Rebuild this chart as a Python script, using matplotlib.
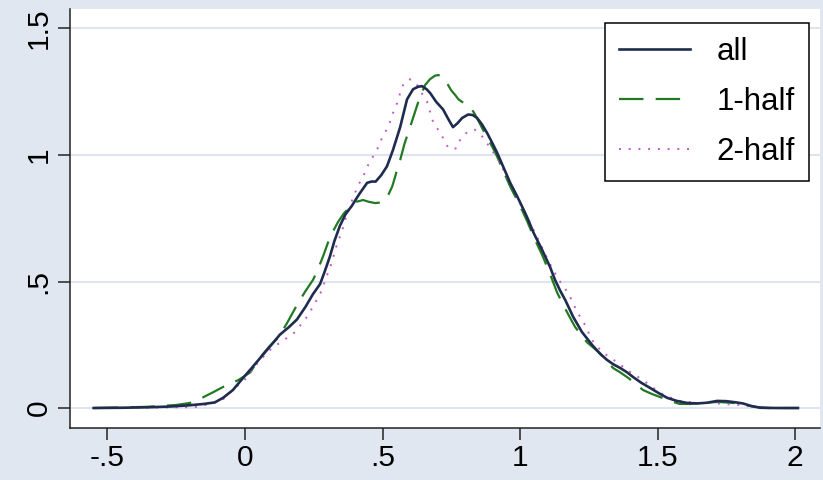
import matplotlib
matplotlib.use("Agg")
import matplotlib.pyplot as plt

plt.rcParams["font.family"] = ["Liberation Sans", "DejaVu Sans"]

# kernel density estimates, full sample and the two halves
all_x = [-0.55, -0.45, -0.35, -0.27, -0.20, -0.15, -0.11, -0.08, -0.044, -0.01,
         0.018, 0.065, 0.10, 0.127, 0.16, 0.189, 0.22, 0.247, 0.273, 0.29,
         0.309, 0.325, 0.345, 0.365, 0.389, 0.415, 0.444, 0.46, 0.475, 0.495,
         0.516, 0.538, 0.564, 0.589, 0.611, 0.63, 0.644, 0.66, 0.673, 0.695,
         0.72, 0.74, 0.756, 0.772, 0.789, 0.811, 0.828, 0.844, 0.862, 0.88,
         0.90, 0.916, 0.94, 0.964, 0.99, 1.01, 1.025, 1.05, 1.08, 1.109,
         1.127, 1.145, 1.164, 1.193, 1.225, 1.262, 1.29, 1.316, 1.34, 1.364,
         1.39, 1.41, 1.44, 1.473, 1.505, 1.535, 1.57, 1.607, 1.645, 1.68,
         1.716, 1.75, 1.78, 1.81, 1.84, 1.873, 1.93, 2.01]
all_y = [0.0, 0.001, 0.003, 0.006, 0.011, 0.016, 0.022, 0.04, 0.071, 0.115,
         0.15, 0.21, 0.255, 0.29, 0.32, 0.35, 0.40, 0.45, 0.49, 0.54,
         0.60, 0.66, 0.72, 0.765, 0.80, 0.845, 0.89, 0.895, 0.895, 0.92,
         0.955, 1.02, 1.11, 1.22, 1.26, 1.27, 1.272, 1.26, 1.245, 1.21,
         1.18, 1.14, 1.11, 1.125, 1.146, 1.16, 1.158, 1.146, 1.12, 1.087,
         1.045, 1.01, 0.95, 0.89, 0.835, 0.79, 0.755, 0.69, 0.625, 0.557,
         0.506, 0.465, 0.427, 0.36, 0.30, 0.249, 0.215, 0.19, 0.172, 0.158,
         0.14, 0.123, 0.10, 0.079, 0.058, 0.04, 0.028, 0.02, 0.018, 0.021,
         0.028, 0.027, 0.023, 0.018, 0.008, 0.001, 0.0, 0.0]

half1_x = [-0.55, -0.45, -0.35, -0.25, -0.20, -0.153, -0.12, -0.08, -0.025, 0.018,
           0.04, 0.065, 0.09, 0.12, 0.153, 0.189, 0.218, 0.247, 0.262, 0.284,
           0.309, 0.338, 0.36, 0.382, 0.405, 0.429, 0.45, 0.473, 0.492, 0.51,
           0.522, 0.535, 0.546, 0.556, 0.564, 0.58, 0.60, 0.618, 0.636, 0.655,
           0.673, 0.69, 0.702, 0.715, 0.727, 0.738, 0.75, 0.764, 0.776, 0.789,
           0.805, 0.818, 0.832, 0.847, 0.865, 0.88, 0.90, 0.916, 0.94, 0.964,
           0.99, 1.01, 1.025, 1.05, 1.08, 1.105, 1.135, 1.17, 1.20, 1.243,
           1.29, 1.338, 1.365, 1.393, 1.42, 1.447, 1.48, 1.51, 1.545, 1.58,
           1.62, 1.655, 1.72, 1.775, 1.81, 1.85, 1.90, 2.01]
half1_y = [0.0, 0.002, 0.005, 0.012, 0.02, 0.042, 0.06, 0.083, 0.11, 0.14,
           0.175, 0.213, 0.245, 0.277, 0.336, 0.407, 0.459, 0.506, 0.54, 0.60,
           0.676, 0.735, 0.77, 0.795, 0.815, 0.822, 0.815, 0.81, 0.812, 0.822,
           0.845, 0.875, 0.915, 0.955, 0.98, 1.045, 1.11, 1.17, 1.23, 1.277,
           1.30, 1.313, 1.316, 1.312, 1.30, 1.277, 1.255, 1.237, 1.22, 1.21,
           1.20, 1.19, 1.168, 1.138, 1.10, 1.07, 1.03, 0.995, 0.935, 0.875,
           0.82, 0.775, 0.74, 0.675, 0.605, 0.54, 0.455, 0.38, 0.32, 0.26,
           0.217, 0.158, 0.14, 0.119, 0.095, 0.071, 0.055, 0.043, 0.028, 0.016,
           0.016, 0.02, 0.024, 0.02, 0.014, 0.005, 0.0, 0.0]

half2_x = [-0.50, -0.40, -0.30, -0.22, -0.18, -0.153, -0.116, -0.084, -0.055, -0.036,
           0.007, 0.047, 0.098, 0.153, 0.182, 0.225, 0.247, 0.28, 0.29, 0.316,
           0.335, 0.353, 0.371, 0.389, 0.411, 0.429, 0.444, 0.462, 0.48, 0.49,
           0.51, 0.527, 0.538, 0.553, 0.564, 0.575, 0.596, 0.61, 0.625, 0.645,
           0.662, 0.673, 0.684, 0.702, 0.72, 0.738, 0.755, 0.771, 0.782, 0.807,
           0.836, 0.865, 0.89, 0.916, 0.94, 0.964, 0.99, 1.025, 1.06, 1.09,
           1.12, 1.153, 1.175, 1.207, 1.225, 1.243, 1.255, 1.298, 1.327, 1.356,
           1.389, 1.418, 1.447, 1.48, 1.51, 1.57, 1.607, 1.65, 1.70, 1.75,
           1.80, 1.85, 1.90, 2.0]
half2_y = [0.0, 0.001, 0.002, 0.003, 0.004, 0.01, 0.02, 0.03, 0.06, 0.079,
           0.12, 0.18, 0.237, 0.277, 0.30, 0.36, 0.40, 0.466, 0.50, 0.577,
           0.65, 0.70, 0.77, 0.82, 0.88, 0.913, 0.953, 0.988, 1.02, 1.05,
           1.09, 1.13, 1.166, 1.205, 1.245, 1.277, 1.30, 1.295, 1.277, 1.24,
           1.21, 1.17, 1.13, 1.10, 1.067, 1.03, 1.022, 1.028, 1.06, 1.09,
           1.10, 1.07, 1.03, 0.99, 0.94, 0.885, 0.83, 0.755, 0.68, 0.61,
           0.545, 0.486, 0.455, 0.38, 0.348, 0.316, 0.277, 0.221, 0.20, 0.178,
           0.15, 0.13, 0.11, 0.083, 0.059, 0.03, 0.024, 0.02, 0.02, 0.015,
           0.012, 0.005, 0.0, 0.0]

labels = ["all", "1-half", "2-half"]
xticks = [-0.5, 0, 0.5, 1, 1.5, 2]
xtick_labels = ["-.5", "0", ".5", "1", "1.5", "2"]
yticks = [0, 0.5, 1, 1.5]
ytick_labels = ["0", ".5", "1", "1.5"]

bg = "#e1e7f0"
grid = "#dfe5ee"

fig = plt.figure(figsize=(8.23, 4.8), dpi=100, facecolor=bg)
ax = fig.add_axes([70 / 823, 52 / 480, 750 / 823, 419 / 480])
ax.set_facecolor("white")

for yv in yticks:
    ax.axhline(yv, color=grid, lw=1.5, zorder=0)

ax.plot(all_x, all_y, color="#1f2c4e", lw=1.9, label=labels[0], zorder=3)
ax.plot(half1_x, half1_y, color="#217a21", lw=1.6, dashes=(11, 5.5), label=labels[1], zorder=2)
ax.plot(half2_x, half2_y, color="#c458c8", lw=1.4, dashes=(1, 4), label=labels[2], zorder=2)

ax.set_xlim(-0.636, 2.09)
ax.set_ylim(-0.079, 1.577)
ax.set_xticks(xticks, xtick_labels)
ax.set_yticks(yticks, ytick_labels)
ax.tick_params(axis="both", direction="out", length=8.5, width=1.1, color="#222222",
               labelsize=21.5, labelcolor="black")
ax.tick_params(axis="x", pad=3)
ax.tick_params(axis="y", pad=4, labelrotation=90)
for lab in ax.get_yticklabels():
    lab.set_va("center")

for side in ["top", "right"]:
    ax.spines[side].set_visible(False)
for side in ["left", "bottom"]:
    ax.spines[side].set_color("#222222")
    ax.spines[side].set_linewidth(1.1)

leg = ax.legend(loc="upper right", bbox_to_anchor=(809 / 823, 1 - 23 / 480),
                bbox_transform=fig.transFigure, borderaxespad=0, fontsize=22.5,
                frameon=True, fancybox=False, framealpha=1, edgecolor="black",
                handlelength=2.25, handletextpad=0.86, borderpad=0.45, labelspacing=0.64)
leg.get_frame().set_linewidth(1.1)

fig.savefig("out.png", dpi=100, facecolor=bg)
